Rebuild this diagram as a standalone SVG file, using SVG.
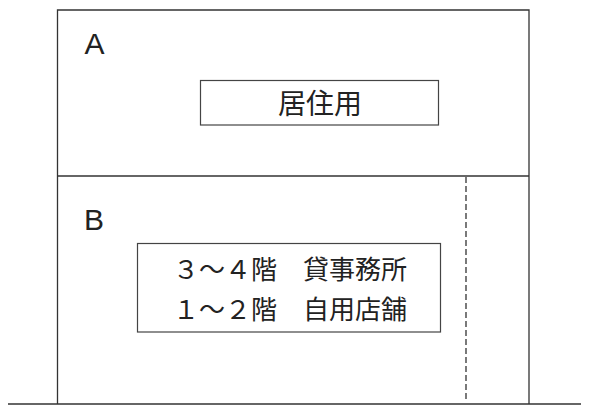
<svg xmlns="http://www.w3.org/2000/svg" width="600" height="414" viewBox="0 0 600 414">
<style>
.ln{stroke:#333;stroke-width:1.3;fill:none}
.bx{stroke:#444;stroke-width:1.2;fill:#fff}
.lbl{font-family:"Liberation Sans",Arial,sans-serif;font-size:30px;fill:#222}
.jp{font-family:"Noto Sans CJK JP","Noto Sans CJK SC",sans-serif;fill:#222}
</style>
<rect width="600" height="414" fill="#fff"/>
<g id="building">
<path class="ln" d="M57.5,404 V10 H529 V404"/>
<line class="ln" x1="57.5" y1="176" x2="529" y2="176"/>
<line class="ln" x1="8" y1="404" x2="581" y2="404"/>
</g>
<g id="connectors">
<line class="ln" x1="466" y1="177" x2="466" y2="401" stroke-width="1" stroke-dasharray="6,3"/>
</g>
<g id="nodeA">
<text class="lbl" x="84.5" y="54">A</text>
<rect class="bx" x="200.5" y="80.5" width="238" height="44.5"/>
<text class="jp" x="320" y="114" font-size="28" text-anchor="middle">居住用</text>
</g>
<g id="nodeB">
<text class="lbl" x="84" y="230">B</text>
<rect class="bx" x="137.5" y="243.5" width="303" height="88.5"/>
<text class="jp" x="173" y="278.5" font-size="26">３～４階　貸事務所</text>
<text class="jp" x="173" y="318.5" font-size="26">１～２階　自用店舗</text>
</g>
</svg>
